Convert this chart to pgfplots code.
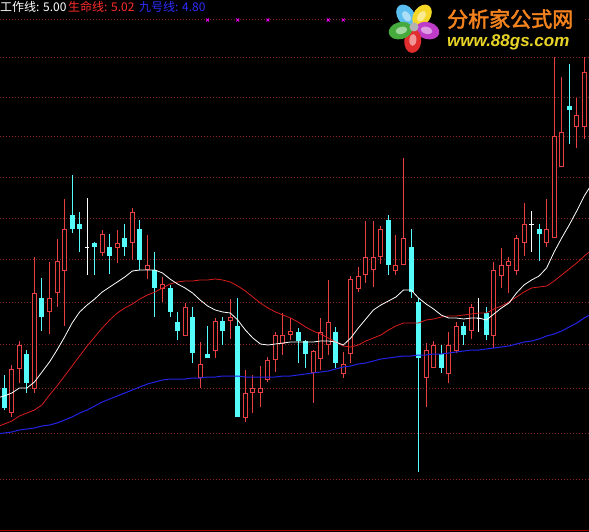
\documentclass[border=0pt]{standalone}
\usepackage{pgfplots}
\usepackage{pgfplotstable}
\usepackage{fontspec}
\pgfplotsset{compat=1.18}
\newfontfamily\cjk{Noto Sans CJK SC}
\newfontfamily\cjkb[FakeBold=2.5]{Noto Sans CJK SC}
\newfontfamily\latinb{Liberation Sans}

\definecolor{cup}{RGB}{232,64,64}
\definecolor{cdown}{RGB}{84,252,252}
\definecolor{gridred}{RGB}{130,35,35}
\definecolor{malife}{RGB}{215,30,30}
\definecolor{manine}{RGB}{35,35,230}
\definecolor{sig}{RGB}{230,0,230}
\definecolor{hdrred}{RGB}{255,45,45}
\definecolor{hdrblue}{RGB}{45,45,255}
\definecolor{border}{RGB}{170,0,0}
\definecolor{petalA}{RGB}{90,190,240}
\definecolor{petalB}{RGB}{245,215,40}
\definecolor{petalC}{RGB}{190,60,200}
\definecolor{petalD}{RGB}{225,45,45}
\definecolor{petalE}{RGB}{70,170,60}
\definecolor{logoorange}{RGB}{242,130,30}
\definecolor{logoyellow}{RGB}{232,212,40}

% rising days: x, high, body top, body bottom, low (price scale runs downward)
\pgfplotstableread{
x hi bt bb lo
1 365 369 413 417
2 341 345 369 383
4 257 293 389 393
6 262 298 312 334
7 239 261 293 307
8 199 229 271 326
13 230 234 253 256
15 230 243 248 263
17 208 212 243 260
19 235 265 270 279
21 277 284 289 302
24 303 307 336 336
26 342 364 378 388
28 318 321 351 358
30 299 317 321 339
32 370 393 418 422
33 375 388 393 413
34 366 388 393 407
35 357 360 380 382
36 332 335 360 372
37 313 335 344 355
38 318 331 335 340
41 350 351 373 403
42 318 332 359 370
43 280 322 345 355
45 352 364 374 378
46 276 279 354 363
47 267 276 289 292
48 221 257 275 283
49 221 257 270 287
50 226 229 257 264
52 235 265 271 275
53 158 238 265 265
56 343 350 378 407
57 341 345 368 368
59 332 345 374 383
60 322 326 351 353
62 304 307 331 339
65 262 270 336 348
66 248 265 276 288
67 257 261 266 293
68 235 238 271 275
69 203 224 243 256
72 199 229 243 247
73 57 136 238 238
74 77 132 167 167
76 98 115 127 148
77 57 72 127 139
}\upcandles

% falling days
\pgfplotstableread{
x hi bt bb lo
0 375 388 408 410
3 350 354 383 393
5 278 298 317 331
9 175 215 229 233
10 212 224 229 252
12 242 243 247 275
14 234 247 256 274
16 224 238 247 256
18 220 229 260 270
20 252 270 288 317
22 285 288 312 317
23 312 322 331 340
25 307 317 353 363
27 326 354 358 358
29 317 321 331 345
31 298 326 417 417
39 328 332 341 363
40 340 341 354 368
44 327 332 363 368
51 215 220 265 275
54 229 247 292 298
55 298 302 358 472
58 345 354 368 373
61 322 326 335 345
64 307 313 335 340
71 224 229 234 261
75 64 106 110 144
}\downcandles

% unchanged days
\pgfplotstableread{
x hi mid lo
11 198 247 275
63 298 318 332
70 211 224 252
}\flatcandles

% moving averages: work line, life line, line nine
\pgfplotstableread{
x work life nine
-1 398 427 434
0 396 424 433
1 393 421 432
2 388 416 430
3 388 413 429
4 382 410 428
5 372 405 426
6 362 395 425
7 350 386 423
8 337 376 420
9 323 366 417
10 312 356 413
11 305 346 410
12 299 337 406
13 292 328 402
14 287 320 399
15 282 313 396
16 277 308 393
17 271 304 390
18 270 299 387
19 270 295 384
20 270 292 382
21 273 288 380
22 279 284 379
23 284 282 379
24 288 281 379
25 293 281 378
26 300 280 378
27 306 280 377
28 310 279 377
29 312 280 376
30 313 282 376
31 320 286 376
32 330 291 377
33 338 297 377
34 344 303 377
35 345 308 377
36 344 312 377
37 343 315 376
38 342 318 376
39 342 322 375
40 342 327 374
41 342 331 373
42 341 334 372
43 341 338 371
44 342 342 369
45 345 346 367
46 338 347 366
47 328 345 364
48 319 341 363
49 310 338 361
50 305 335 359
51 301 330 358
52 297 326 357
53 290 323 356
54 290 323 356
55 298 323 355
56 304 320 355
57 309 319 354
58 315 317 354
59 318 316 353
60 318 316 352
61 319 315 351
62 318 314 350
63 318 313 350
64 320 313 349
65 314 309 348
66 308 306 347
67 303 302 346
68 293 297 344
69 285 292 342
70 280 288 341
71 276 287 339
72 268 286 336
73 252 281 334
74 238 275 331
75 225 269 327
76 211 263 323
77 196 256 318
78 184 250 314
}\malines

\pgfplotsset{
  candle/.style 2 args={draw=none, mark=none, forget plot,
    error bars/.cd, y dir=plus, y explicit, error mark=none,
    error bar style={draw=#1, line width=#2}},
}

\begin{document}
\begin{tikzpicture}
\begin{axis}[
  width=589pt, height=532pt, scale only axis,
  xmin=-0.571, xmax=77.63, ymin=0, ymax=532, y dir=reverse,
  axis background/.style={fill=black},
  axis line style={draw=none},
  xtick=\empty,
  ytick={20,58,98,137,177,218,259,302,344,388,433,479},
  yticklabels={}, yticklabel style={inner sep=0pt, outer sep=0pt},
  ytick style={draw=none},
  ymajorgrids,
  major grid style={gridred, line width=1pt, dash pattern=on 1pt off 2pt},
  clip=true,
]
% wicks
\addplot[candle={cup}{1pt}]
  table[x=x, y=hi, y error plus expr=\thisrow{lo}-\thisrow{hi}]{\upcandles};
\addplot[candle={cdown}{1pt}]
  table[x=x, y=hi, y error plus expr=\thisrow{lo}-\thisrow{hi}]{\downcandles};
\addplot[candle={white}{1pt}]
  table[x=x, y=hi, y error plus expr=\thisrow{lo}-\thisrow{hi}]{\flatcandles};
\addplot[draw=none, mark=none, forget plot,
  error bars/.cd, x dir=both, x fixed=0.3, error mark=none,
  error bar style={draw=white, line width=1pt}]
  table[x=x, y=mid]{\flatcandles};
% bodies: hollow red for rising days, solid cyan for falling days
\addplot[candle={cup}{5pt}]
  table[x=x, y=bt, y error plus expr=\thisrow{bb}-\thisrow{bt}]{\upcandles};
\addplot[candle={black}{3pt}]
  table[x=x, y expr=\thisrow{bt}+1, y error plus expr=\thisrow{bb}-\thisrow{bt}-2]{\upcandles};
\addplot[candle={cdown}{5pt}]
  table[x=x, y=bt, y error plus expr=\thisrow{bb}-\thisrow{bt}]{\downcandles};
% moving averages
\addplot[manine, line width=1pt, mark=none] table[x=x, y=nine]{\malines};
\addplot[malife, line width=0.8pt, mark=none] table[x=x, y=life]{\malines};
\addplot[white, line width=0.8pt, mark=none] table[x=x, y=work]{\malines};
% signal marks on the top row
\addplot[sig, only marks, mark=x, mark size=2pt, line width=1pt]
  coordinates {(27,20) (31,20) (35,20) (43,20) (45,20)};
\end{axis}
\begin{scope}[shift={(current axis.north west)}, x=1pt, y=-1pt]
  % status line
  \node[anchor=base west, inner sep=0pt, text=white, font=\cjk\fontsize{12}{12}\selectfont] at (0,12) {工作线: 5.00};
  \node[anchor=base west, inner sep=0pt, text=hdrred, font=\cjk\fontsize{12}{12}\selectfont] at (68,12) {生命线: 5.02};
  \node[anchor=base west, inner sep=0pt, text=hdrblue, font=\cjk\fontsize{12}{12}\selectfont] at (139,12) {九号线: 4.80};
  % site logo
  \fill[black] (384,0) rectangle (584,53);
  \begin{scope}[shift={(414,27)}]
    \foreach \ang/\col in {125/petalA, 55/petalB, -15/petalC, -95/petalD, -165/petalE} {
      \fill[\col, rotate=\ang] (14,0) ellipse (12 and 8.5);
      \fill[white, opacity=0.5, rotate=\ang] (13,0) ellipse (6 and 3.5);
    }
    \fill[gray!60] (0,0) circle (4.5);
  \end{scope}
  \node[anchor=base west, inner sep=0pt, text=logoorange, font=\cjkb\fontsize{21}{21}\selectfont] at (447,27) {分析家公式网};
  \node[anchor=base west, inner sep=0pt, text=logoyellow, font=\latinb\bfseries\itshape\fontsize{17}{17}\selectfont] at (447,47) {www.88gs.com};
  % bottom border
  \draw[border, line width=1pt] (0,531) -- (589,531);
\end{scope}
\pgfresetboundingbox
\path[use as bounding box] (current axis.south west) rectangle (current axis.north east);
\end{tikzpicture}
\end{document}
